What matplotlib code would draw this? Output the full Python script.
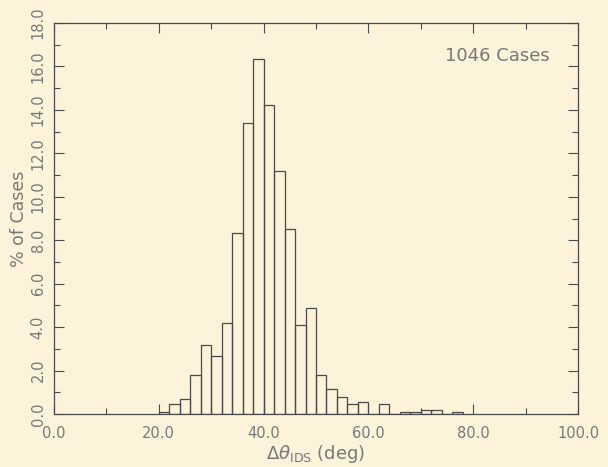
import numpy as np
import matplotlib
matplotlib.use('Agg')
from matplotlib import pyplot as plt
from matplotlib.ticker import MultipleLocator, FormatStrFormatter

# histogram of delta-theta, 2 deg bins from 20 to 78 deg (case counts)
bin_left = [20, 22, 24, 26, 28, 30, 32, 34, 36, 38, 40, 42, 44, 46, 48,
            50, 52, 54, 56, 58, 60, 62, 64, 66, 68, 70, 72, 74, 76]
counts = [1, 5, 7, 19, 33, 28, 44, 87, 140, 171, 149, 117, 89, 43, 51,
          19, 12, 8, 5, 6, 0, 5, 0, 1, 1, 2, 2, 0, 1]
n_cases = 1046
bin_width = 2

percent = np.array(counts) / n_cases * 100

bg = '#fcf3da'
ink = '#4a4a4a'
txt = '#787878'

plt.rcParams['font.family'] = ['DejaVu Sans']
plt.rcParams['mathtext.fontset'] = 'dejavusans'

fig = plt.figure(figsize=(6.08, 4.67), dpi=100, facecolor=bg)
ax = fig.add_axes([0.0888, 0.1135, 0.8619, 0.8372])
ax.set_facecolor(bg)

ax.bar(bin_left, percent, width=bin_width, align='edge', fill=False,
       edgecolor=ink, linewidth=0.9)

ax.set_xlim(0, 100)
ax.set_ylim(0, 18)
ax.xaxis.set_major_locator(MultipleLocator(20))
ax.xaxis.set_minor_locator(MultipleLocator(10))
ax.yaxis.set_major_locator(MultipleLocator(2))
ax.yaxis.set_minor_locator(MultipleLocator(1))
ax.xaxis.set_major_formatter(FormatStrFormatter('%.1f'))
ax.yaxis.set_major_formatter(FormatStrFormatter('%.1f'))

ax.tick_params(which='both', direction='in', top=True, right=True,
               color=ink, labelcolor=txt, labelsize=10.5)
ax.tick_params(which='major', length=7, width=0.8)
ax.tick_params(which='minor', length=4, width=0.8)
ax.tick_params(axis='x', pad=9)
ax.tick_params(axis='y', pad=6)
for lab in ax.get_yticklabels():
    lab.set_rotation(90)
    lab.set_va('center')
for s in ax.spines.values():
    s.set_color(ink)
    s.set_linewidth(0.9)

ax.set_ylabel('% of Cases', color=txt, fontsize=12.5, labelpad=2)
ax.set_xlabel(r'$\Delta\theta_{\mathrm{IDS}}$ (deg)', color=txt, fontsize=13,
              labelpad=1)
ax.text(84.7, 16.5, '%d Cases' % n_cases, color=txt, fontsize=13,
        ha='center', va='center')

fig.savefig('out.png', dpi=100, facecolor=bg)
